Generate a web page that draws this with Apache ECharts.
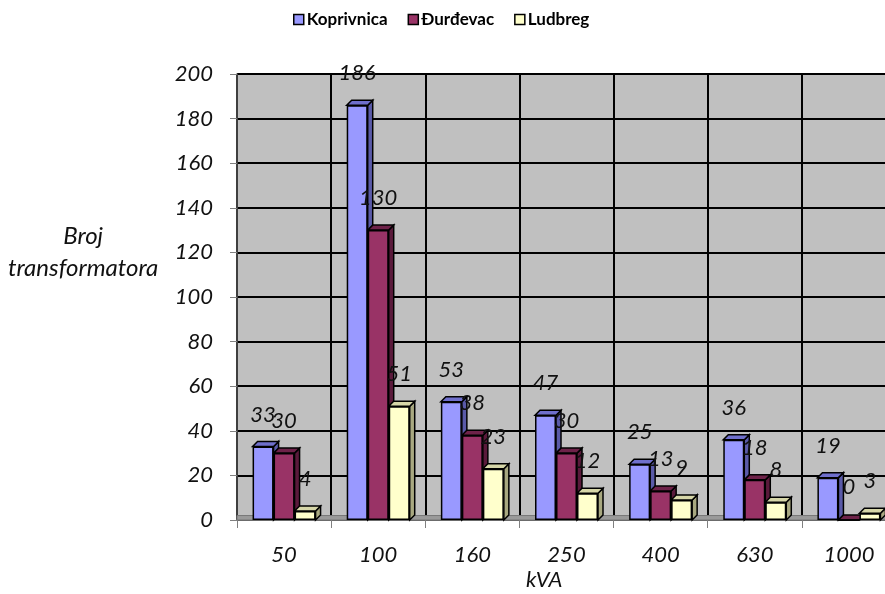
<!DOCTYPE html>
<html><head><meta charset="utf-8">
<script src="https://cdn.jsdelivr.net/npm/echarts@6/dist/echarts.min.js"></script>
<style>html,body{margin:0;padding:0;background:#fff;overflow:hidden}#c{width:896px;height:594px}</style>
</head><body><div id="c"></div>
<script>
var categories = ['50','100','160','250','400','630','1000'];
var koprivnica = [33,186,53,47,25,36,19];
var durdevac = [30,130,38,30,13,18,0];
var ludbreg = [4,51,23,12,9,8,3];
var seriesNames = ['Koprivnica','Đurđevac','Ludbreg'];
var faceColors = ['#9999ff','#993366','#ffffcc'];
var capColors = ['#6f6fcc','#6e2249','#d6d6a8'];
var sideColors = ['#5a5aa8','#5a1a3b','#a8a880'];
var yTicks = {min:0,max:200,interval:20};

var font = 'Lato, "Open Sans", sans-serif';
var chart = echarts.init(document.getElementById('c'));
var allData = [koprivnica, durdevac, ludbreg];
var BW = 21, D = 5;

function capSeries(idx){
  return {
    type:'custom', name: seriesNames[idx], z:1, silent:true,
    data: allData[idx].map(function(v,i){return [i,v];}),
    renderItem: function(params, api){
      var ci = api.value(0), v = api.value(1);
      var top = api.coord([ci, v]);
      var bot = api.coord([ci, 0]);
      var cx = top[0] + (idx-1)*BW;
      var x0 = cx - BW/2, x1 = cx + BW/2, ty = top[1], by = bot[1];
      return {type:'group', children:[
        {type:'polygon', shape:{points:[[x1,ty],[x1+D,ty-D],[x1+D,by-D],[x1,by]]},
          style:{fill:sideColors[idx], stroke:'#000', lineWidth:1.5}},
        {type:'polygon', shape:{points:[[x0,ty],[x1,ty],[x1+D,ty-D],[x0+D,ty-D]]},
          style:{fill:capColors[idx], stroke:'#000', lineWidth:1.5}}
      ]};
    }
  };
}

var barSeries = allData.map(function(d, idx){
  return {
    type:'bar', name: seriesNames[idx], data: d, barWidth: BW, barGap:'0%', z:2,
    itemStyle:{color: faceColors[idx], borderColor:'#000', borderWidth:1.5},
    label:{show:true, position:'top', distance:21, offset:[0,0], fontFamily:font, fontStyle:'italic',
      fontSize:22, color:'#111'}
  };
});
barSeries[0].markArea = {silent:true, itemStyle:{color:'#9a9a9a', borderColor:'#777', borderWidth:1},
  data:[[{yAxis:0},{yAxis:2}]]};

chart.setOption({
  animation:false,
  legend:{top:6, left:288, itemWidth:10, itemHeight:10, itemGap:20,
    data: seriesNames.map(function(n,i){return {name:n, icon:'rect', itemStyle:{color:faceColors[i], borderColor:'#000', borderWidth:1.5}};}),
    textStyle:{fontFamily:font, fontWeight:'bold', fontSize:17, color:'#000', padding:[0,0,0,-2]}},
  grid:{left:237, top:74, right:0, bottom:74, show:true, backgroundColor:'#c0c0c0', borderWidth:0},
  xAxis:{type:'category', data:categories,
    axisLine:{show:true, lineStyle:{color:'#808080', width:1.5}},
    axisTick:{show:true, length:8, lineStyle:{color:'#808080'}},
    splitLine:{show:true, lineStyle:{color:'#000', width:2}},
    axisLabel:{margin:24, fontFamily:font, fontStyle:'italic', fontSize:22, color:'#111'}},
  yAxis:{type:'value', min:yTicks.min, max:yTicks.max, interval:yTicks.interval,
    axisLine:{show:true, lineStyle:{color:'#555', width:1.5}},
    axisTick:{show:true, length:7, lineStyle:{color:'#808080'}},
    splitLine:{show:true, lineStyle:{color:'#000', width:2}},
    axisLabel:{margin:24, fontFamily:font, fontStyle:'italic', fontSize:22, color:'#111'}},
  graphic:[
    {type:'text', left:8, top:220, style:{text:'Broj\ntransformatora', textAlign:'center', fontFamily:font, fontStyle:'italic', fontSize:24, lineHeight:32, fill:'#111'}},
    {type:'text', left:526, top:569, style:{text:'kVA', fontFamily:font, fontStyle:'italic', fontSize:22, fill:'#111'}}
  ],
  series: [capSeries(0), capSeries(1), capSeries(2)].concat(barSeries)
});
</script></body></html>
